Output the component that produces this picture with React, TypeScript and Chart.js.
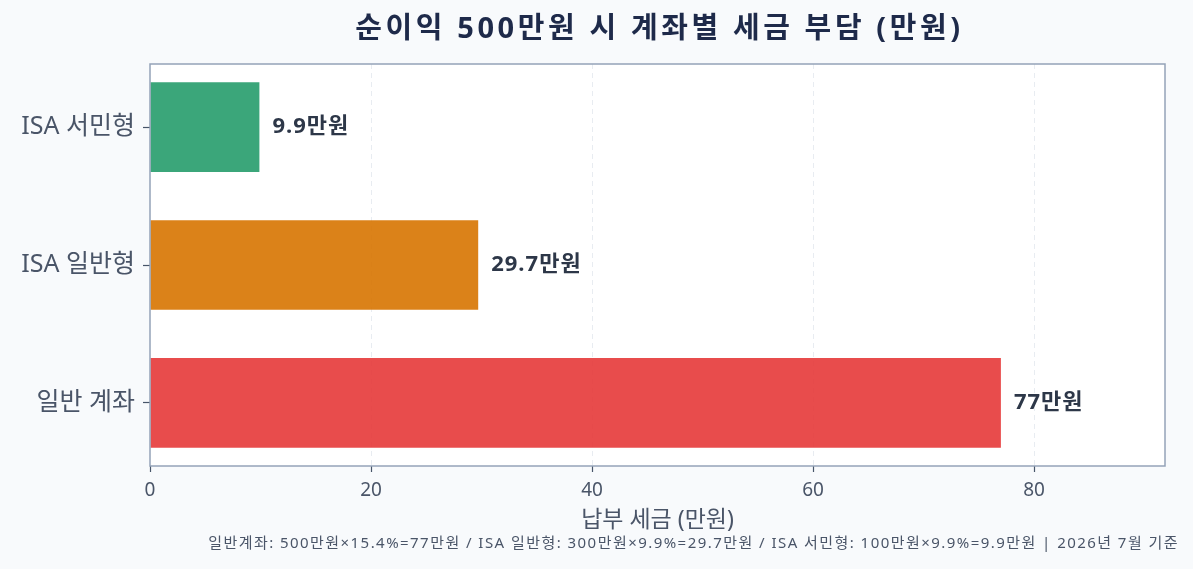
import React, { useEffect, useRef } from 'react';
import { Chart, registerables } from 'chart.js';

Chart.register(...registerables);

// 계좌별 세금 (만원)
const categories = ['ISA 서민형', 'ISA 일반형', '일반 계좌'];
const taxValues = [9.9, 29.7, 77];
const barColors = [
  'rgba(38, 156, 108, 0.9)',
  'rgba(215, 116, 0, 0.9)',
  'rgba(229, 57, 57, 0.9)',
];
const xTicks = [0, 20, 40, 60, 80];
const xMax = 91.85;

const titleText = '순이익 500만원 시 계좌별 세금 부담 (만원)';
const xTitle = '납부 세금 (만원)';
const footnote =
  '일반계좌: 500만원×15.4%=77만원 / ISA 일반형: 300만원×9.9%=29.7만원 / ISA 서민형: 100만원×9.9%=9.9만원 | 2026년 7월 기준';

const FONT = "'Noto Sans', 'Noto Sans CJK KR', sans-serif";

const framePlugin = {
  id: 'frame',
  beforeDraw(chart: any) {
    const { ctx, chartArea: a, width, height } = chart;
    ctx.save();
    ctx.fillStyle = '#f8fafc';
    ctx.fillRect(0, 0, width, height);
    ctx.fillStyle = '#ffffff';
    ctx.fillRect(a.left, a.top, a.right - a.left, a.bottom - a.top);
    ctx.restore();
  },
  afterDatasetsDraw(chart: any) {
    const { ctx, chartArea: a } = chart;
    ctx.save();
    // value labels
    const meta = chart.getDatasetMeta(0);
    ctx.font = `bold 22px ${FONT}`;
    ctx.letterSpacing = '1px';
    ctx.fillStyle = '#2d3748';
    ctx.textAlign = 'left';
    ctx.textBaseline = 'middle';
    meta.data.forEach((bar: any, i: number) => {
      ctx.fillText(`${taxValues[i]}만원`, bar.x + 13, bar.y);
    });
    ctx.letterSpacing = '0px';
    // plot border
    ctx.strokeStyle = '#94a3b8';
    ctx.lineWidth = 1.5;
    ctx.strokeRect(a.left, a.top, a.right - a.left, a.bottom - a.top);
    ctx.restore();
  },
  afterDraw(chart: any) {
    const { ctx, chartArea: a, width } = chart;
    ctx.save();
    ctx.font = `bold 29px ${FONT}`;
    ctx.letterSpacing = '3.6px';
    ctx.fillStyle = '#1e2a4a';
    ctx.textAlign = 'center';
    ctx.textBaseline = 'middle';
    ctx.fillText(titleText, (a.left + a.right) / 2 + 2, 30);
    ctx.font = `15px ${FONT}`;
    ctx.letterSpacing = '1.45px';
    ctx.fillStyle = '#4a5568';
    ctx.textAlign = 'right';
    ctx.fillText(footnote, width - 14, 544);
    ctx.letterSpacing = '0px';
    ctx.restore();
  },
};

export default function App() {
  const canvasRef = useRef<HTMLCanvasElement | null>(null);
  const chartRef = useRef<Chart | null>(null);

  useEffect(() => {
    document.body.style.margin = '0';
    if (!canvasRef.current) return;
    if (chartRef.current) chartRef.current.destroy();
    const ctx = canvasRef.current.getContext('2d');
    if (!ctx) return;

    chartRef.current = new Chart(ctx, {
      type: 'bar',
      data: {
        datasets: [
          {
            data: taxValues.map((v, i) => ({ x: v, y: i })),
            backgroundColor: barColors,
            borderWidth: 0,
            categoryPercentage: 1,
            barPercentage: 0.65,
          },
        ],
      },
      options: {
        indexAxis: 'y',
        responsive: true,
        maintainAspectRatio: false,
        animation: false,
        layout: { padding: { left: 0, right: 28, top: 64, bottom: 0 } },
        plugins: {
          legend: { display: false },
          tooltip: { enabled: false },
          title: { display: false },
        },
        scales: {
          x: {
            type: 'linear',
            min: 0,
            max: xMax,
            afterBuildTicks: (s: any) => {
              s.ticks = xTicks.map((v) => ({ value: v }));
            },
            afterFit: (s: any) => {
              s.height = 103;
            },
            grid: {
              color: (c: any) => (c.tick && c.tick.value === 0 ? 'rgba(0,0,0,0)' : '#e8ecf1'),
              lineWidth: 1,
              tickColor: '#475569',
              tickLength: 6,
              tickWidth: 1.2,
              tickBorderDash: [],
            },
            border: { display: false, dash: [5, 4] },
            ticks: {
              color: '#4a5568',
              font: { family: FONT, size: 19 },
              padding: 7,
            },
            title: {
              display: true,
              text: xTitle,
              color: '#4a5568',
              font: { family: FONT, size: 23 },
              padding: { top: 0, bottom: 35 },
            },
          },
          y: {
            type: 'linear',
            reverse: true,
            offset: false,
            min: -0.4575,
            max: 2.4575,
            afterBuildTicks: (s: any) => {
              s.ticks = categories.map((_, i) => ({ value: i }));
            },
            afterFit: (s: any) => {
              s.width = 150;
            },
            grid: {
              offset: false,
              drawOnChartArea: false,
              tickColor: '#475569',
              tickLength: 7,
              tickWidth: 1.2,
            },
            border: { display: false },
            ticks: {
              color: '#4a5568',
              font: { family: FONT, size: 25 },
              padding: 8,
              callback: (v: any) => categories[v as number] ?? '',
            },
          },
        },
      },
      plugins: [framePlugin],
    });

    return () => {
      if (chartRef.current) {
        chartRef.current.destroy();
        chartRef.current = null;
      }
    };
  }, []);

  return (
    <div style={{ width: 1193, height: 569, position: 'relative' }}>
      <canvas ref={canvasRef} />
    </div>
  );
}
